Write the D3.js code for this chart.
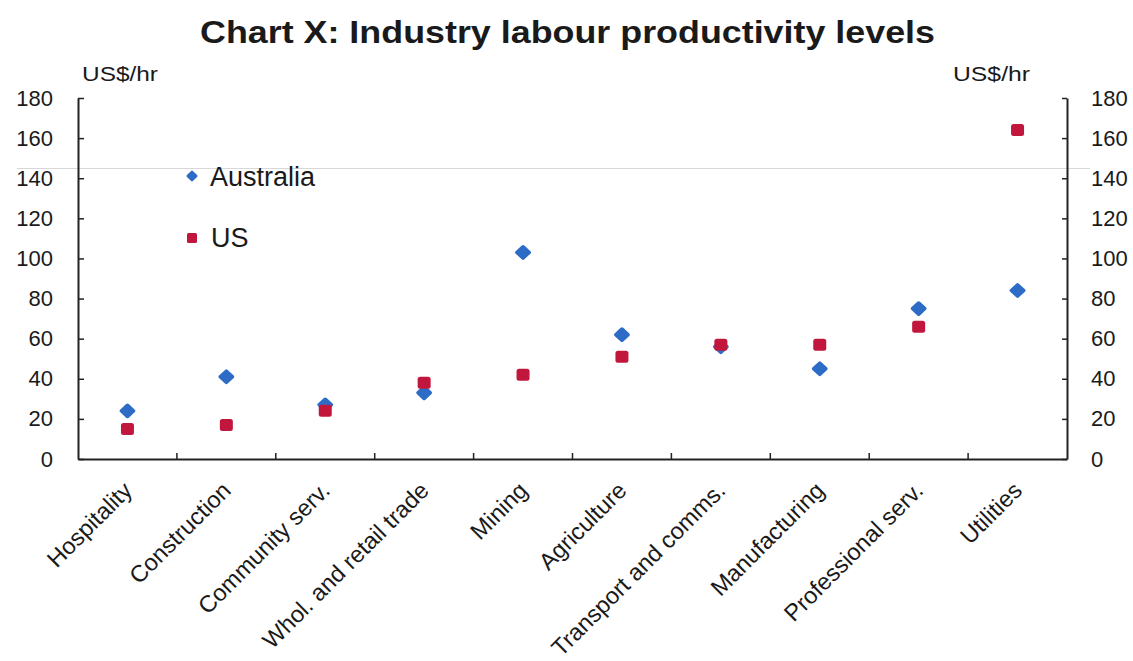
<!DOCTYPE html>
<html>
<head>
<meta charset="utf-8">
<script src="https://cdn.jsdelivr.net/npm/d3@7"></script>
<style>
  html, body { margin: 0; padding: 0; background: #fff; }
  svg { display: block; }
  text { font-family: "Liberation Sans", Arial, sans-serif; fill: #1a1a1a; }
</style>
</head>
<body>
<svg id="chart" width="1133" height="661"></svg>
<script>
// ---- data ----
const categories = ["Hospitality", "Construction", "Community serv.", "Whol. and retail trade",
  "Mining", "Agriculture", "Transport and comms.", "Manufacturing", "Professional serv.", "Utilities"];
const australia = [24, 41, 27, 33, 103, 62, 56, 45, 75, 84];
const us = [15, 17, 24, 38, 42, 51, 57, 57, 66, 164];
const yTicks = [0, 20, 40, 60, 80, 100, 120, 140, 160, 180];
const seriesNames = ["Australia", "US"];
const title = "Chart X: Industry labour productivity levels";
const unitLabel = "US$/hr";

// ---- layout ----
const plotLeft = 78, plotRight = 1067, plotTop = 98, plotBottom = 459;
const blue = "#2d6cc6", red = "#c2173d", axisCol = "#222";

const svg = d3.select("#chart");

const x = d3.scaleBand().domain(categories).range([plotLeft, plotRight]);
const y = d3.scaleLinear().domain([0, 180]).range([plotBottom, plotTop]);

// faint scan line artifact
svg.append("line").attr("x1", 17).attr("x2", 1090).attr("y1", 168.5).attr("y2", 168.5)
  .attr("stroke", "#d8d8d8").attr("stroke-width", 1);

// title
svg.append("text").attr("x", 200).attr("y", 43)
  .attr("font-size", 32).attr("font-weight", "bold")
  .attr("textLength", 735).attr("lengthAdjust", "spacingAndGlyphs")
  .text(title);

// unit labels
svg.append("text").attr("x", 82).attr("y", 81).attr("font-size", 21)
  .attr("textLength", 76).attr("lengthAdjust", "spacingAndGlyphs").text(unitLabel);
svg.append("text").attr("x", 953).attr("y", 81).attr("font-size", 21)
  .attr("textLength", 77).attr("lengthAdjust", "spacingAndGlyphs").text(unitLabel);

// left axis
const gL = svg.append("g").attr("transform", `translate(${plotLeft},0)`)
  .call(d3.axisLeft(y).tickValues(yTicks).tickSizeInner(-6).tickSizeOuter(0).tickPadding(25));
// right axis
const gR = svg.append("g").attr("transform", `translate(${plotRight},0)`)
  .call(d3.axisRight(y).tickValues(yTicks).tickSizeInner(-5).tickSizeOuter(0).tickPadding(24));

[gL, gR].forEach(g => {
  g.select(".domain").attr("stroke", axisCol).attr("stroke-width", 2);
  g.selectAll(".tick line").attr("stroke", axisCol).attr("stroke-width", 1.5);
  g.selectAll(".tick text").attr("font-size", 22).attr("fill", "#1a1a1a")
    .attr("font-family", "'Liberation Sans', Arial, sans-serif");
});

// x axis
const gX = svg.append("g").attr("transform", `translate(0,${plotBottom})`)
  .call(d3.axisBottom(x).tickSize(0).tickPadding(0));
gX.select(".domain").attr("stroke", axisCol).attr("stroke-width", 2);
gX.selectAll(".tick text")
  .attr("font-size", 23.5)
  .attr("font-family", "'Liberation Sans', Arial, sans-serif")
  .attr("fill", "#1a1a1a")
  .attr("text-anchor", "end")
  .attr("dy", null)
  .attr("transform", "translate(6,33) rotate(-45)");

// category divider ticks (inside, upward)
svg.append("g").selectAll("line")
  .data(categories.slice(1))
  .join("line")
  .attr("x1", d => x(d)).attr("x2", d => x(d))
  .attr("y1", plotBottom).attr("y2", plotBottom - 6)
  .attr("stroke", axisCol).attr("stroke-width", 1.5);

// points
const diamond = d3.symbol().type(d3.symbolDiamond2).size(80);
svg.append("g").selectAll("path")
  .data(categories.map((c, i) => ({ c, v: australia[i] })))
  .join("path")
  .attr("d", diamond)
  .attr("transform", d => `translate(${x(d.c) + x.bandwidth() / 2},${y(d.v)}) scale(1.08,1)`)
  .attr("fill", blue)
  .attr("stroke", blue).attr("stroke-width", 3.5).attr("stroke-linejoin", "round");

svg.append("g").selectAll("rect")
  .data(categories.map((c, i) => ({ c, v: us[i] })))
  .join("rect")
  .attr("x", d => x(d.c) + x.bandwidth() / 2 - 6.5)
  .attr("y", d => y(d.v) - 6)
  .attr("width", 13).attr("height", 12).attr("rx", 2.5)
  .attr("fill", red);

// legend
const lg = svg.append("g");
lg.append("path").attr("d", d3.symbol().type(d3.symbolDiamond2).size(45))
  .attr("transform", "translate(192,176)").attr("fill", blue)
  .attr("stroke", blue).attr("stroke-width", 2.5).attr("stroke-linejoin", "round");
lg.append("text").attr("x", 210).attr("y", 185.5).attr("font-size", 27)
  .attr("font-family", "Lato, 'Open Sans', sans-serif").attr("fill", "#222")
  .text(seriesNames[0]);
lg.append("rect").attr("x", 187).attr("y", 233).attr("width", 10).attr("height", 10)
  .attr("rx", 1.5).attr("fill", red);
lg.append("text").attr("x", 211).attr("y", 247).attr("font-size", 27)
  .attr("font-family", "Lato, 'Open Sans', sans-serif").attr("fill", "#222")
  .text(seriesNames[1]);
</script>
</body>
</html>
